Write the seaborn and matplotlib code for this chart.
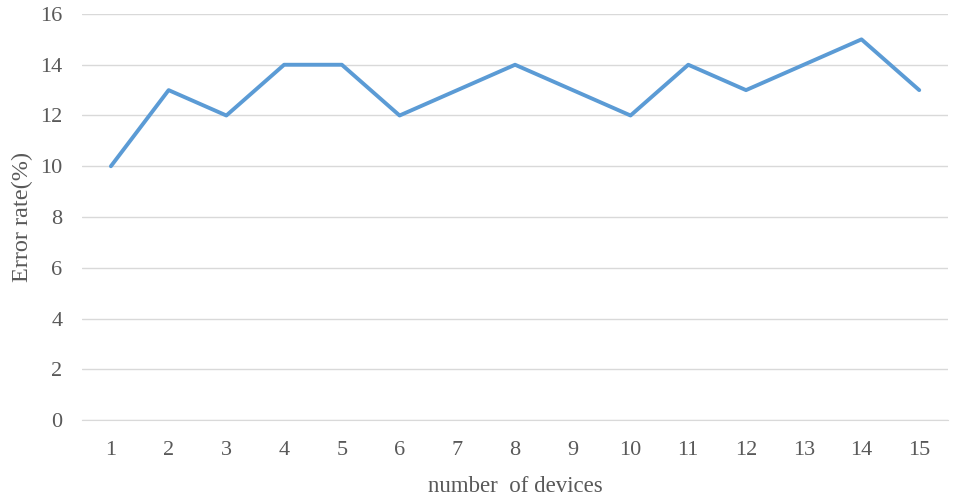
import matplotlib
matplotlib.use("Agg")
import matplotlib.pyplot as plt
import seaborn as sns
import pandas as pd

# values
devices = list(range(1, 16))
error_rate = [10, 13, 12, 14, 14, 12, 13, 14, 13, 12, 14, 13, 14, 15, 13]

df = pd.DataFrame({"devices": devices, "error_rate": error_rate})

sns.set_style("white")
plt.rcParams["font.family"] = ["Liberation Serif", "DejaVu Serif"]

fig = plt.figure(figsize=(9.57, 5), dpi=100)
ax = fig.add_axes([0.0857, 0.16, 0.905, 0.812])

sns.lineplot(x="devices", y="error_rate", data=df, ax=ax,
             color="#5B9BD5", linewidth=2.8)

ax.set_xlim(0.5, 15.5)
ax.set_ylim(0, 16)
ax.set_xticks(devices)
ax.set_yticks(range(0, 17, 2))
ax.yaxis.grid(True, color="#D9D9D9", linewidth=1)
ax.set_axisbelow(True)
for side in ["top", "right", "left"]:
    ax.spines[side].set_visible(False)
ax.spines["bottom"].set_color("#D9D9D9")
ax.tick_params(axis="both", length=0, labelsize=16, colors="#595959")
ax.tick_params(axis="x", pad=15)
ax.tick_params(axis="y", pad=14)

ax.set_xlabel("number  of devices", fontsize=16.5, color="#595959")
ax.set_ylabel("Error rate(%)", fontsize=17.5, color="#595959")
ax.xaxis.set_label_coords(0.5, -0.137)
ax.yaxis.set_label_coords(-0.057, 0.5)

fig.savefig("out.png", dpi=100)
